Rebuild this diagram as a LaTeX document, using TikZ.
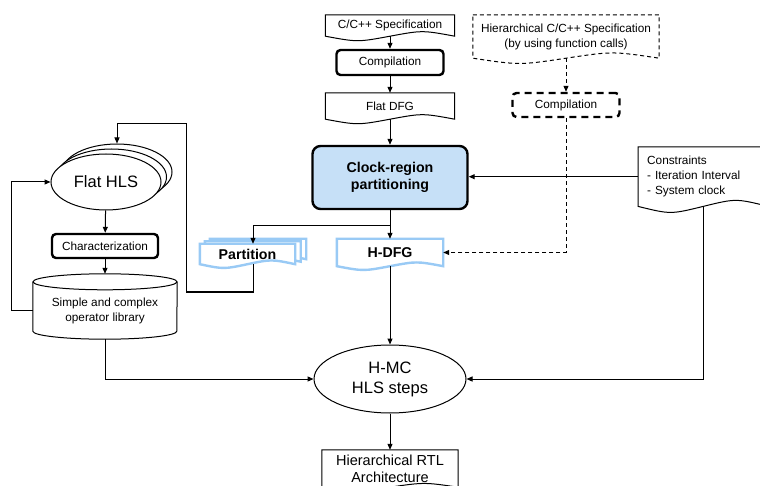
\documentclass[tikz,border=0pt]{standalone}
\usepackage{fontspec}
\setmainfont{Liberation Sans}
\usetikzlibrary{arrows.meta,calc,shapes.geometric}
\pgfdeclarelayer{background}
\pgfsetlayers{background,main}
\definecolor{regionblue}{RGB}{198,224,247}
\definecolor{docblue}{RGB}{153,202,245}
\tikzset{
    txt/.style = {
        font=\fontsize{11.8}{15}\selectfont,
        },
    doc/.style = {
        txt,
        inner sep=0pt,
        align=center,
        },
    bold doc/.style = {
        doc,
        font=\fontsize{14.2}{17}\selectfont\bfseries,
        },
    doc line/.style = {
        line width=1pt,
        },
    blue doc/.style = {
        draw=docblue,
        line width=2.4pt,
        },
    proc/.style = {
        txt,
        draw,
        line width=2.4pt,
        rounded corners=4pt,
        minimum width=107pt,
        minimum height=25pt,
        inner sep=0pt,
        },
    dashed proc/.style = {
        proc,
        dash pattern=on 7pt off 5pt,
        },
    region/.style = {
        draw,
        fill=regionblue,
        line width=2.4pt,
        rounded corners=8pt,
        font=\fontsize{14.2}{17}\selectfont\bfseries,
        align=center,
        minimum width=155pt,
        minimum height=63pt,
        },
    hls/.style = {
        draw,
        ellipse,
        fill=white,
        line width=1pt,
        inner sep=0pt,
        align=center,
        font=\fontsize{16.5}{20}\selectfont,
        },
    arr/.style = {
        -{Triangle[length=6pt,width=5pt]},
        line width=1pt,
        },
    dash arr/.style = {
        arr,
        dash pattern=on 4pt off 3pt,
        },
}

% document outline: top left, bottom right (middle of the wave), wave size
\newcommand{\docshape}[4][]{%
    \filldraw[fill=white, doc line, #1] (#2) -- (#3 |- #2) -- (#3)
        .. controls ($(#3)!0.25!(#2 |- #3)+(0,-#4)$) .. ($(#2 |- #3)!0.5!(#3)$)
        .. controls ($(#2 |- #3)!0.25!(#3)+(0,#4)$) .. (#2 |- #3) -- cycle;
}

\begin{document}
\begin{tikzpicture}[x=1pt, y=-1pt]
    \clip (0,0) rectangle (760,486);

    % main flow
    \node[doc, minimum width=129pt, minimum height=21pt] (spec) at (390,25.5) {C/C++ Specification};
    \node[proc] (comp) at (390,62.5) {Compilation};
    \node[doc, minimum width=129pt, minimum height=26pt] (dfg) at (390,106) {Flat DFG};
    \node[region] (region) at (390,177.5) {Clock-region\\partitioning};

    \node[doc, minimum width=186pt, minimum height=43pt] (hspec) at (566,36.5) {Hierarchical C/C++ Specification\\(by using function calls)};
    \node[dashed proc, minimum height=24pt] (hcomp) at (566,105) {Compilation};

    \node[doc, align=left, text width=112pt, inner xsep=9pt, minimum height=59pt, anchor=north west] (cons) at (638,147) {Constraints\\- Iteration Interval\\- System clock};

    \node[bold doc, minimum width=106pt, minimum height=20pt] (part) at (253,254) {Partition\kern11pt};
    \node[bold doc, minimum width=106pt, minimum height=27pt] (hdfg) at (390,252.5) {H-DFG};

    % flat HLS loop
    \node[hls, minimum width=110pt, minimum height=56pt] (hls2) at (117,172) {};
    \node[hls, minimum width=110pt, minimum height=56pt] (hls1) at (111.5,177) {};
    \node[hls, minimum width=110pt, minimum height=56pt] (hls) at (106,182) {Flat HLS};
    \node[proc, minimum width=106pt, minimum height=24pt] (char) at (105,246) {Characterization};
    \node[doc, minimum width=144pt, minimum height=57pt] (lib) at (105,310.5) {Simple and complex\\operator library};
    \coordinate (libtop) at ($(lib.north)+(0,-8)$);

    \node[hls, minimum width=152pt, minimum height=68pt] (hmc) at (390,379) {H-MC\\HLS steps};
    \node[doc, font=\fontsize{14.5}{17}\selectfont, minimum width=136pt, minimum height=37pt] (rtl) at (390,468.5) {Hierarchical RTL\\Architecture};

    \coordinate (pb2a) at ($(part.north west)+(10,-5)$);
    \coordinate (pb2b) at ($(part.south east)+(0,-5)$);
    \coordinate (pb1a) at ($(part.north west)+(5,-2.5)$);
    \coordinate (pb1b) at ($(part.south east)+(-5.5,-2.5)$);
    \coordinate (pfb) at ($(part.south east)+(-11,0)$);

    \begin{pgfonlayer}{background}
        \docshape{spec.north west}{spec.south east}{6}
        \docshape{dfg.north west}{dfg.south east}{6}
        \docshape[dash pattern=on 4pt off 3pt]{hspec.north west}{hspec.south east}{7}
        \docshape{cons.north west}{cons.south east}{8}
        \docshape{rtl.north west}{rtl.south east}{5}
        \docshape[blue doc]{hdfg.north west}{hdfg.south east}{5}
        \docshape[blue doc]{pb2a}{pb2b}{5}
        \docshape[blue doc]{pb1a}{pb1b}{5}
        \docshape[blue doc]{part.north west}{pfb}{5}
        % library cylinder
        \draw[doc line] (lib.north west) -- ($(lib.south west)+(0,-8)$)
            arc[start angle=180, end angle=360, x radius=72pt, y radius=8pt] -- (lib.north east);
        \draw[doc line] (lib.north) ellipse [x radius=72pt, y radius=8pt];
    \end{pgfonlayer}

    \draw[arr] (spec) -- (comp);
    \draw[arr] (comp) -- (dfg);
    \draw[arr] (dfg) -- (region);
    \draw[dash arr] (hspec) -- (hcomp);
    \draw[dash arr] (hcomp) |- (hdfg);
    \draw[arr] (cons.west) -- (cons.west -| region.east);
    \draw[arr] (region) -- (hdfg);
    \draw[arr] (region.south) -- ++(0,15) -| (part);
    \draw[arr] (hdfg) -- (hmc);
    \draw[arr] (part) |- (186,292) -- (186,124) -| (hls2);
    \draw[arr] (hls) -- (char);
    \draw[arr] (char) -- (libtop);
    \draw[arr] (lib.west) -- ++(-21,0) |- (hls);
    \draw[arr] (lib.south) |- (hmc);
    \draw[arr] (cons.south) |- (hmc);
    \draw[arr] (hmc) -- (rtl);
\end{tikzpicture}
\end{document}
